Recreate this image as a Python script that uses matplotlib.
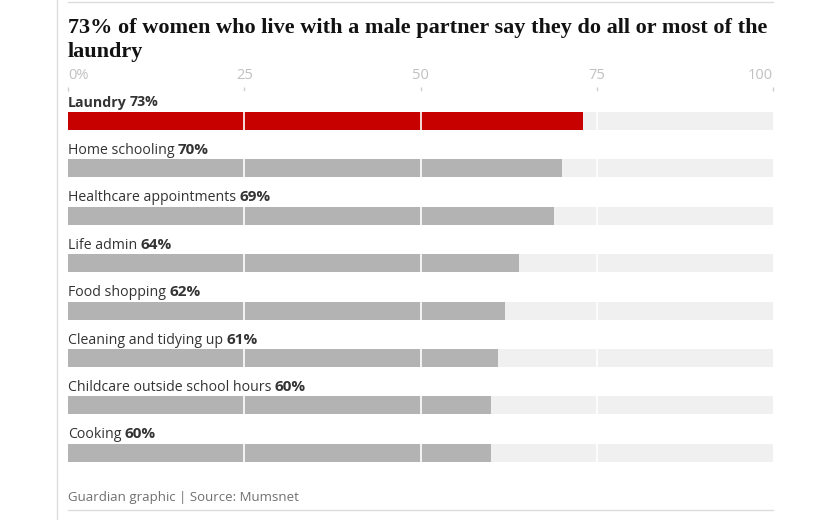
import matplotlib.pyplot as plt
from matplotlib.lines import Line2D

# data
categories = ["Laundry", "Home schooling", "Healthcare appointments", "Life admin",
              "Food shopping", "Cleaning and tidying up",
              "Childcare outside school hours", "Cooking"]
values = [73, 70, 69, 64, 62, 61, 60, 60]
tick_vals = [0, 25, 50, 75, 100]
tick_labels = ["0%", "25", "50", "75", "100"]

title_lines = ["73% of women who live with a male partner say they do all or most of the",
               "laundry"]
source = "Guardian graphic | Source: Mumsnet"

RED = "#c70000"
GREY = "#b3b3b3"
TRACK = "#f0f0f0"
TEXT = "#333333"

W, H = 832, 520
fig = plt.figure(figsize=(W / 100, H / 100), dpi=100)

# axes in pixel terms: x 68..773, top 91, bottom 480
left, right, top, bottom = 68, 773, 91, 480
ax = fig.add_axes([left / W, 1 - bottom / H, (right - left) / W, (bottom - top) / H])
step = 47.4
first_center = 121
ax.set_xlim(0, 100)
ax.set_ylim((bottom - first_center) / step, (top - first_center) / step)

bar_h = 18 / step
ys = list(range(len(values)))
ax.barh(ys, [100] * len(values), height=bar_h, color=TRACK, zorder=1)
colors = [RED] + [GREY] * (len(values) - 1)
ax.barh(ys, values, height=bar_h, color=colors, zorder=2)
for g in [25, 50, 75]:
    ax.axvline(g, color="white", lw=1.2, zorder=3)

lab_font = "Open Sans"
fig.canvas.draw()
renderer = fig.canvas.get_renderer()
for i, (cat, v) in enumerate(zip(categories, values)):
    y = i - 14.5 / step
    t = ax.text(0, y, cat, fontsize=10.2, family=lab_font, color=TEXT,
                va="baseline", ha="left", fontweight="bold" if i == 0 else "normal")
    bb = t.get_window_extent(renderer)
    x_end = ax.transData.inverted().transform((bb.x1 + 3, bb.y0))[0]
    ax.text(x_end, y, f"{v}%", fontsize=11 if i else 10.2, family=lab_font, color=TEXT,
            va="baseline", ha="left", fontweight="bold")

ax.xaxis.tick_top()
ax.set_xticks(tick_vals)
ax.set_xticklabels(tick_labels, fontsize=10.5, family=lab_font, color="#c0c0c0")
ax.tick_params(axis="x", length=3, width=1, color="#cccccc", pad=3)
labs = ax.get_xticklabels()
labs[0].set_ha("left")
labs[-1].set_ha("right")
ax.set_yticks([])
for s in ax.spines.values():
    s.set_visible(False)

# title, one text per line
for k, line in enumerate(title_lines):
    fig.text(left / W, 1 - (33 + 24 * k) / H, line, fontsize=16, family="Liberation Serif",
             fontweight="bold", color="#121212", va="baseline", ha="left")

fig.text(left / W, 1 - 497 / H, source, fontsize=9.5, family=lab_font,
         color="#707070", va="center", ha="left")

# frame lines
fig.add_artist(Line2D([left / W, right / W], [1 - 2 / H, 1 - 2 / H], color="#dcdcdc", lw=1))
fig.add_artist(Line2D([left / W, right / W], [1 - 510 / H, 1 - 510 / H], color="#dcdcdc", lw=1))
fig.add_artist(Line2D([57 / W, 57 / W], [0, 1], color="#dcdcdc", lw=1))

fig.savefig("out.png", dpi=100)
